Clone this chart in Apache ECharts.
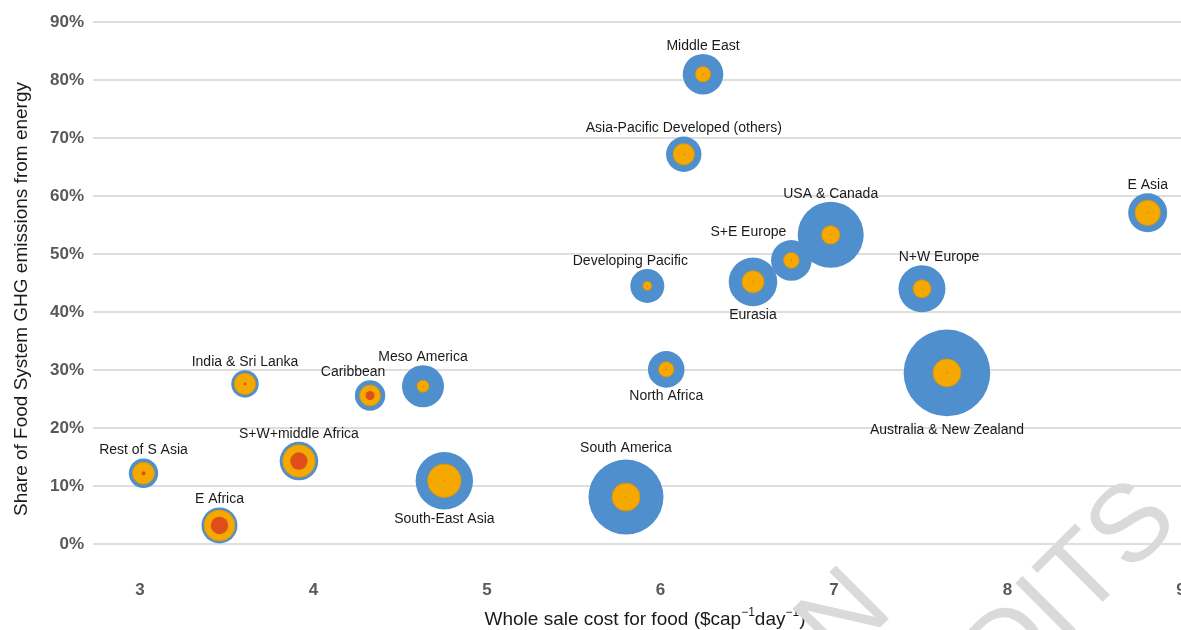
<!DOCTYPE html>
<html>
<head>
	<meta charset="utf-8" />
	<title>Food system energy share vs wholesale cost</title>
	<script src="https://cdn.jsdelivr.net/npm/echarts@6/dist/echarts.min.js"></script>
	<style>
		html, body { margin: 0; padding: 0; background: #fff; }
		#chart { width: 1181px; height: 630px; }
	</style>
</head>
<body>
<div id="chart"></div>
<script type="text/javascript">
	// regions
	var regions = ['Rest of S Asia', 'E Africa', 'India & Sri Lanka', 'S+W+middle Africa', 'Caribbean',
		'Meso America', 'South-East Asia', 'South America', 'North Africa', 'Australia & New Zealand',
		'Middle East', 'Asia-Pacific Developed (others)', 'Developing Pacific', 'Eurasia', 'S+E Europe',
		'USA & Canada', 'N+W Europe', 'E Asia'];
	// whole sale cost ($/cap/day)
	var cost = [3.02, 3.458, 3.605, 3.916, 4.326, 4.631, 4.754, 5.801, 6.033, 7.651,
		6.245, 6.134, 5.924, 6.533, 6.754, 6.981, 7.507, 8.808];
	// share of food system GHG from energy (%)
	var energyShare = [12.2, 3.2, 27.6, 14.3, 25.6, 27.2, 10.9, 8.1, 30.1, 29.5,
		81.0, 67.2, 44.5, 45.2, 48.9, 53.3, 44.0, 57.1];
	// bubble quantities (area), outer / middle / inner ring
	var totalSize = [216, 324, 188, 372, 231, 441, 824, 1406, 335, 1875,
		412, 313, 289, 590, 412, 1089, 552, 380];
	var midSize = [121, 240, 114, 266, 110, 36, 279, 196, 59, 196,
		59, 114, 20, 121, 61, 85, 81, 161];
	var innerSize = [4, 76, 2, 76, 20, 0.3, 0.3, 0.3, 0.3, 0.3,
		0.3, 0.3, 0.3, 0.3, 0.3, 0.3, 0.3, 0.3];
	var xTicks = [3, 4, 5, 6, 7, 8, 9];

	// label placement (layout only)
	var labelSide = ['top', 'top', 'top', 'top', 'top', 'top', 'bottom', 'top', 'bottom', 'bottom',
		'top', 'top', 'top', 'bottom', 'top', 'top', 'top', 'top'];
	var labelShift = [[0, 0], [0, 0], [0, 0], [0, 0], [-17, 0], [0, 0], [0, 2], [0, -3], [0, 0], [0, 6],
		[0, 0], [0, 0], [-17, 0], [0, 1], [-43, 0], [0, 0], [17, 0], [0, 0]];

	function diam(v) { return 2 * Math.sqrt(v); }

	function points(sizes, withLabel) {
		return regions.map(function (name, i) {
			var p = { name: name, value: [cost[i], energyShare[i], sizes[i]] };
			if (withLabel) {
				p.label = { show: true, position: labelSide[i], distance: 1, offset: labelShift[i] };
			}
			return p;
		});
	}

	var myChart = echarts.init(document.getElementById('chart'));
	var option = {
		backgroundColor: '#fff',
		animation: false,
		textStyle: { fontFamily: 'Liberation Sans, Arial, sans-serif' },
		grid: { left: 93, right: 0, top: 22, bottom: 86, outerBoundsMode: 'none', containLabel: false },
		xAxis: {
			type: 'value',
			min: 2.729,
			max: 9,
			name: '{t|Whole sale cost for food ($cap}{s|\u22121}{t|day}{s|\u22121}{t|)}',
			nameLocation: 'middle',
			nameGap: 63,
			nameTextStyle: {
				padding: [0, 0, 0, 16],
				rich: {
					t: { fontSize: 19, color: '#1a1a1a', lineHeight: 22, verticalAlign: 'bottom' },
					s: { fontSize: 12, color: '#1a1a1a', lineHeight: 22, verticalAlign: 'top' }
				}
			},
			axisLine: { show: false },
			axisTick: { show: false },
			splitLine: { show: false },
			axisLabel: {
				customValues: xTicks,
				margin: 38,
				fontSize: 17,
				fontWeight: 'bold',
				color: '#595959'
			}
		},
		yAxis: {
			type: 'value',
			min: 0,
			max: 90,
			interval: 10,
			name: 'Share of Food System GHG emissions from energy',
			nameLocation: 'middle',
			nameGap: 62,
			nameTextStyle: { fontSize: 19, color: '#1a1a1a', padding: [0, 32, 0, 0] },
			axisLine: { show: false },
			axisTick: { show: false },
			axisLabel: {
				formatter: '{value}%',
				margin: 9,
				fontSize: 17,
				fontWeight: 'bold',
				color: '#595959'
			},
			splitLine: { lineStyle: { color: '#d3d3d3', width: 1.5 } }
		},
		series: [
			{
				name: 'total',
				type: 'scatter',
				data: points(totalSize, true),
				symbolSize: function (v) { return diam(v[2]); },
				itemStyle: { color: '#4f8fcd', opacity: 1 },
				label: { fontSize: 14, color: '#1a1a1a', formatter: '{b}' },
				z: 2
			},
			{
				name: 'middle',
				type: 'scatter',
				data: points(midSize, false),
				symbolSize: function (v) { return diam(v[2]); },
				itemStyle: { color: '#f5a800', borderColor: '#d99400', borderWidth: 0.8, opacity: 1 },
				z: 3
			},
			{
				name: 'inner',
				type: 'scatter',
				data: points(innerSize, false),
				symbolSize: function (v) { return diam(v[2]); },
				itemStyle: { color: '#e04f1a', opacity: 1 },
				z: 4
			}
		],
		graphic: [
			{
				type: 'text', x: 874, y: 591, rotation: Math.PI / 4, z: 100, silent: true,
				style: { text: 'DRAFT VERSION', fontSize: 109, fontFamily: 'Liberation Sans', fill: '#dadada',
					textAlign: 'right', textVerticalAlign: 'middle' }
			},
			{
				type: 'text', x: 1160, y: 502, rotation: Math.PI / 4, z: 100, silent: true,
				style: { text: 'WITHOUT EDITS', fontSize: 109, fontFamily: 'Liberation Sans', fill: '#dadada',
					textAlign: 'right', textVerticalAlign: 'middle' }
			}
		]
	};
	myChart.setOption(option);
</script>
</body>
</html>
